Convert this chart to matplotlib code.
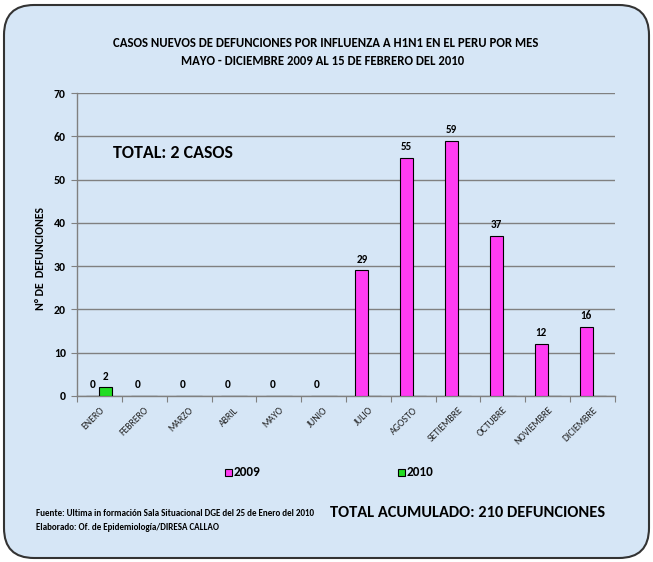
import matplotlib
matplotlib.use("Agg")
import matplotlib.pyplot as plt
import numpy as np
from matplotlib.patches import FancyBboxPatch, Rectangle
from matplotlib import font_manager

months = ["ENERO", "FEBRERO", "MARZO", "ABRIL", "MAYO", "JUNIO", "JULIO",
          "AGOSTO", "SETIEMBRE", "OCTUBRE", "NOVIEMBRE", "DICIEMBRE"]
deaths_2009 = [0, 0, 0, 0, 0, 0, 29, 55, 59, 37, 12, 16]
deaths_2010 = [2, None, None, None, None, None, None, None, None, None, None, None]
series_names = ["2009", "2010"]
yticks = [0, 10, 20, 30, 40, 50, 60, 70]

available = {f.name for f in font_manager.fontManager.ttflist}
main_font = next(n for n in ["Carlito", "Liberation Sans Narrow", "Asap Condensed",
                             "Barlow Semi Condensed", "DejaVu Sans"] if n in available)
plt.rcParams["font.family"] = [main_font, "DejaVu Sans"]

W, H, DPI = 653, 562, 100
fig = plt.figure(figsize=(W / DPI, H / DPI), dpi=DPI)
fig.patch.set_facecolor("white")

# rounded panel behind everything (pixel coordinates)
panel = FancyBboxPatch((4, 4), W - 8, H - 9,
                       boxstyle="round,pad=0,rounding_size=30",
                       transform=None, facecolor="#d6e6f6",
                       edgecolor="#333333", linewidth=1.5, zorder=-5)
fig.patches.append(panel)

ax = fig.add_axes([77 / W, 1 - 396 / H, (615 - 77) / W, (396 - 93) / H])
ax.set_facecolor("none")
ax.set_zorder(2)

MAGENTA = "#ff3cf2"
GREEN = "#22dd22"
bw = 0.29
x = np.arange(len(months)) + 0.5

v09 = np.array(deaths_2009, dtype=float)
v10 = np.array([np.nan if v is None else v for v in deaths_2010], dtype=float)

ax.bar(x - bw / 2, v09, width=bw, color=MAGENTA, edgecolor="black",
       linewidth=0.8, zorder=3)
ax.bar(x + bw / 2, np.nan_to_num(v10), width=bw, color=GREEN, edgecolor="black",
       linewidth=0.8, zorder=3)

for xi, v in zip(x, v09):
    ax.text(xi - bw / 2, v + 1.3, f"{int(v)}", ha="center", va="bottom",
            fontsize=8, fontweight="bold", zorder=4)
for xi, v in zip(x, v10):
    if not np.isnan(v):
        ax.text(xi + bw / 2, v + 1.3, f"{int(v)}", ha="center", va="bottom",
                fontsize=8, fontweight="bold", zorder=4)

ax.set_xlim(0, 12)
ax.set_ylim(0, 70)
ax.set_yticks(yticks)
ax.set_yticklabels([str(t) for t in yticks], fontsize=8.5, fontweight="bold")
ax.yaxis.grid(True, color="#808080", linewidth=1.0, zorder=1)
ax.tick_params(axis="y", length=4, color="#808080", pad=4)

ax.set_xticks(np.arange(0, 13), minor=False)
ax.set_xticklabels([])
ax.tick_params(axis="x", which="major", length=4, color="#808080", direction="out")
ax.set_xticks(x, minor=True)
ax.set_xticklabels(months, minor=True, rotation=45, ha="right",
                   rotation_mode="anchor", fontsize=7, color="#222222")
ax.tick_params(axis="x", which="minor", length=0, pad=7)

for side in ("top", "right"):
    ax.spines[side].set_visible(False)
for side in ("left", "bottom"):
    ax.spines[side].set_color("#808080")
    ax.spines[side].set_linewidth(1.0)

fig.text(40 / W, 1 - 258 / H, "N° DE  DEFUNCIONES", rotation=90,
         ha="center", va="center", fontsize=8.5, fontweight="bold")

fig.text(326 / W, 1 - 43 / H,
         "CASOS NUEVOS DE DEFUNCIONES POR INFLUENZA A H1N1 EN EL PERU POR MES",
         ha="center", va="center", fontsize=9.2, fontweight="bold")
fig.text(323 / W, 1 - 61 / H, "MAYO - DICIEMBRE 2009 AL 15 DE FEBRERO DEL 2010",
         ha="center", va="center", fontsize=9.2, fontweight="bold")

fig.text(113 / W, 1 - 153 / H, "TOTAL: 2 CASOS", ha="left", va="center",
         fontsize=13, fontweight="bold")

# legend entries
for px, color, name in [(229, MAGENTA, series_names[0]), (402, GREEN, series_names[1])]:
    fig.patches.append(Rectangle(((px - 4) / W, 1 - 476 / H), 7 / W, 7 / H,
                                 transform=fig.transFigure, facecolor=color,
                                 edgecolor="black", linewidth=0.8, zorder=3))
    fig.text((px + 5) / W, 1 - 472 / H, name, ha="left", va="center",
             fontsize=9.5, fontweight="bold")

fig.text(36 / W, 1 - 513 / H,
         "Fuente: Ultima in formación Sala Situacional DGE del 25 de Enero del 2010",
         ha="left", va="center", fontsize=6.5, fontweight="bold")
fig.text(36 / W, 1 - 527 / H, "Elaborado: Of. de Epidemiología/DIRESA CALLAO",
         ha="left", va="center", fontsize=6.5, fontweight="bold")
fig.text(330 / W, 1 - 513 / H, "TOTAL ACUMULADO: 210 DEFUNCIONES",
         ha="left", va="center", fontsize=11.8, fontweight="bold")

fig.savefig("out.png", dpi=DPI)
